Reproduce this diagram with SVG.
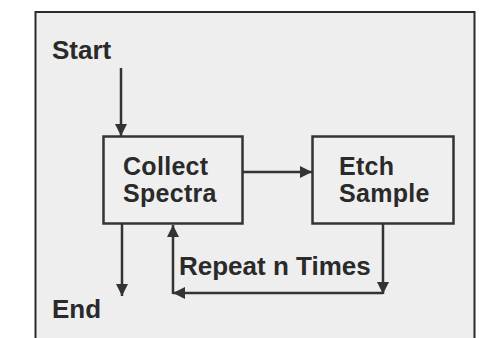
<svg xmlns="http://www.w3.org/2000/svg" width="485" height="338" viewBox="0 0 485 338">
<style>
.t{font-family:"Liberation Sans",Arial,sans-serif;font-weight:bold;font-size:26px;fill:#2a2a2a}
.t2{font-size:25px;letter-spacing:0.3px}
.box{fill:#efefef;stroke:#333;stroke-width:2.5}
.ln{fill:none;stroke:#333;stroke-width:2.5}
</style>
<defs>
<marker id="ah" viewBox="0 0 10 10" refX="10" refY="5" markerWidth="12" markerHeight="12" markerUnits="userSpaceOnUse" orient="auto">
<path d="M0,0 L10,5 L0,10 Z" fill="#333"/>
</marker>
</defs>
<rect x="0" y="0" width="485" height="338" fill="#ffffff"/>
<rect x="35.5" y="12" width="439" height="340" fill="#eeeeee" stroke="#2a2a2a" stroke-width="2"/>
<g id="start"><text class="t" x="52" y="59">Start</text></g>
<g id="end"><text class="t" x="52" y="318">End</text></g>
<g id="collect">
<rect class="box" x="103.5" y="136.5" width="139" height="87"/>
<text class="t t2" x="123" y="175">Collect</text>
<text class="t t2" x="123" y="202">Spectra</text>
</g>
<g id="etch">
<rect class="box" x="312.5" y="136.5" width="141" height="87"/>
<text class="t t2" x="339" y="175">Etch</text>
<text class="t t2" x="339" y="202">Sample</text>
</g>
<g id="label"><text class="t" x="179" y="275">Repeat n Times</text></g>
<g id="connectors">
<line class="ln" x1="121" y1="68" x2="121" y2="136" marker-end="url(#ah)"/>
<line class="ln" x1="122" y1="224" x2="122" y2="296" marker-end="url(#ah)"/>
<line class="ln" x1="243" y1="172" x2="312" y2="172" marker-end="url(#ah)"/>
<line class="ln" x1="383" y1="224" x2="383" y2="294" marker-end="url(#ah)"/>
<line class="ln" x1="383" y1="293" x2="173" y2="293" marker-end="url(#ah)"/>
<line class="ln" x1="173" y1="294" x2="173" y2="225" marker-end="url(#ah)"/>
</g>
</svg>
